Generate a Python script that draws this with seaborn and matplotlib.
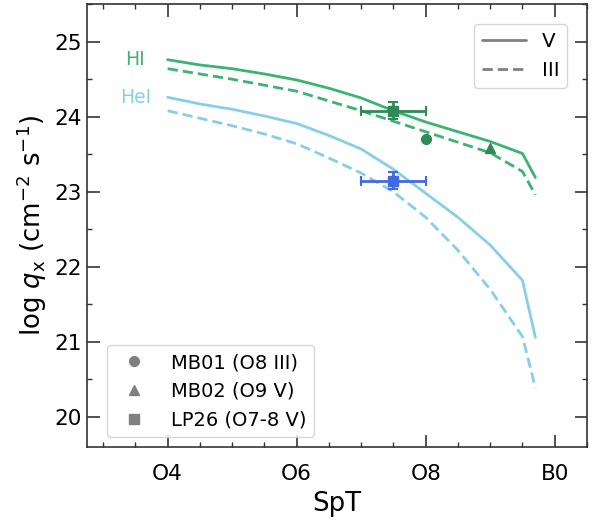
import numpy as np
import pandas as pd
import seaborn as sns
import matplotlib
matplotlib.use("Agg")
import matplotlib.pyplot as plt
from matplotlib.lines import Line2D
from matplotlib.ticker import MultipleLocator, FixedLocator

# Spectral subtype grid (O4 = 4 ... O9.7 = 9.7, B0 = 10)
spt = [4.0, 4.5, 5.0, 5.5, 6.0, 6.5, 7.0, 7.5, 8.0, 8.5, 9.0, 9.5, 9.7]

# Ionising photon fluxes, log q (cm^-2 s^-1)
hi_v = [24.76, 24.69, 24.64, 24.57, 24.49, 24.38, 24.25, 24.08, 23.93, 23.80, 23.67, 23.51, 23.19]
hi_iii = [24.64, 24.57, 24.50, 24.42, 24.34, 24.21, 24.08, 23.94, 23.80, 23.66, 23.52, 23.27, 22.96]
hei_v = [24.26, 24.17, 24.10, 24.01, 23.91, 23.75, 23.57, 23.30, 22.98, 22.66, 22.29, 21.82, 21.06]
hei_iii = [24.08, 23.98, 23.88, 23.77, 23.64, 23.45, 23.25, 23.00, 22.66, 22.22, 21.70, 21.07, 20.39]

# Individual stars
mb01_spt, mb01_q = 8.0, 23.70
mb02_spt, mb02_q = 9.0, 23.59
lp26_spt, lp26_spt_err = 7.5, 0.5
lp26_q_hi, lp26_q_hei, lp26_q_err = 24.08, 23.15, 0.11

tick_pos = [4, 6, 8, 10]
tick_labels = ["O4", "O6", "O8", "B0"]
star_labels = ["MB01 (O8 III)", "MB02 (O9 V)", "LP26 (O7-8 V)"]

c_hi, c_hei = "#3cb371", "#87ceeb"
c_hi_pt, c_hei_pt = "#2e8b57", "#4169e1"

sns.set_style("ticks")
plt.rcParams["font.family"] = ["DejaVu Sans"]
plt.rcParams["text.color"] = "black"
plt.rcParams["axes.labelcolor"] = "black"

fig = plt.figure(figsize=(5.98, 5.2), dpi=100)
ax = fig.add_axes([0.1455, 0.1404, 0.8361, 0.8516])

curves = pd.DataFrame({
    "spt": spt * 4,
    "logq": hi_v + hi_iii + hei_v + hei_iii,
    "ion": ["HI"] * 26 + ["HeI"] * 26,
    "cls": (["V"] * 13 + ["III"] * 13) * 2,
})
sns.lineplot(data=curves, x="spt", y="logq", hue="ion", style="cls",
             palette={"HI": c_hi, "HeI": c_hei},
             dashes={"V": "", "III": (3.7, 1.8)}, style_order=["V", "III"],
             lw=2, legend=False, ax=ax, sort=False, estimator=None)

ax.text(3.5, hi_v[0], "HI", color=c_hi, fontsize=13.5, ha="center", va="center")
ax.text(3.5, hei_v[0], "HeI", color=c_hei, fontsize=13.5, ha="center", va="center")

ax.plot([mb01_spt], [mb01_q], "o", color=c_hi_pt, ms=7)
ax.plot([mb02_spt], [mb02_q], "^", color=c_hi_pt, ms=7.5)
ax.errorbar([lp26_spt], [lp26_q_hi], xerr=lp26_spt_err, yerr=lp26_q_err, fmt="s",
            color=c_hi_pt, ms=7, lw=2, capsize=3.5, capthick=1.5)
ax.errorbar([lp26_spt], [lp26_q_hei], xerr=lp26_spt_err, yerr=lp26_q_err, fmt="s",
            color=c_hei_pt, ms=7, lw=2, capsize=3.5, capthick=1.5)

ax.set_xlim(2.75, 10.5)
ax.set_ylim(19.6, 25.5)
ax.xaxis.set_major_locator(FixedLocator(tick_pos))
ax.set_xticklabels(tick_labels)
ax.xaxis.set_minor_locator(MultipleLocator(0.5))
ax.yaxis.set_major_locator(MultipleLocator(1))
ax.yaxis.set_minor_locator(MultipleLocator(0.5))
ax.tick_params(which="both", direction="in", top=True, right=True, color=".2",
               labelcolor="black")
ax.tick_params(which="major", length=9, width=1.2, labelsize=15.6)
ax.tick_params(which="minor", length=3.5, width=1.0)
ax.tick_params(axis="x", which="major", pad=12)
for s in ax.spines.values():
    s.set_color(".2")
    s.set_linewidth(1.2)

ax.set_xlabel("SpT", fontsize=18.7, labelpad=5)
ax.set_ylabel(r"log $q_{\rm x}$ (cm$^{-2}$ s$^{-1}$)", fontsize=18.7)

cls_handles = [Line2D([], [], color="gray", lw=2, ls="-"),
               Line2D([], [], color="gray", lw=2, ls=(0, (3.7, 1.8)))]
leg1 = ax.legend(cls_handles, ["V", "III"], loc="upper right", fontsize=14.3,
                 handlelength=2.2, borderaxespad=1.0)
ax.add_artist(leg1)

star_handles = [Line2D([], [], marker=m, color="gray", ls="none", ms=ms)
                for m, ms in zip(["o", "^", "s"], [7, 7.5, 7])]
ax.legend(star_handles, star_labels, loc="lower left", fontsize=14.0,
          bbox_to_anchor=(0.02, 0.0), borderaxespad=0.5, handletextpad=0.9)

fig.savefig("out.png", dpi=100)
